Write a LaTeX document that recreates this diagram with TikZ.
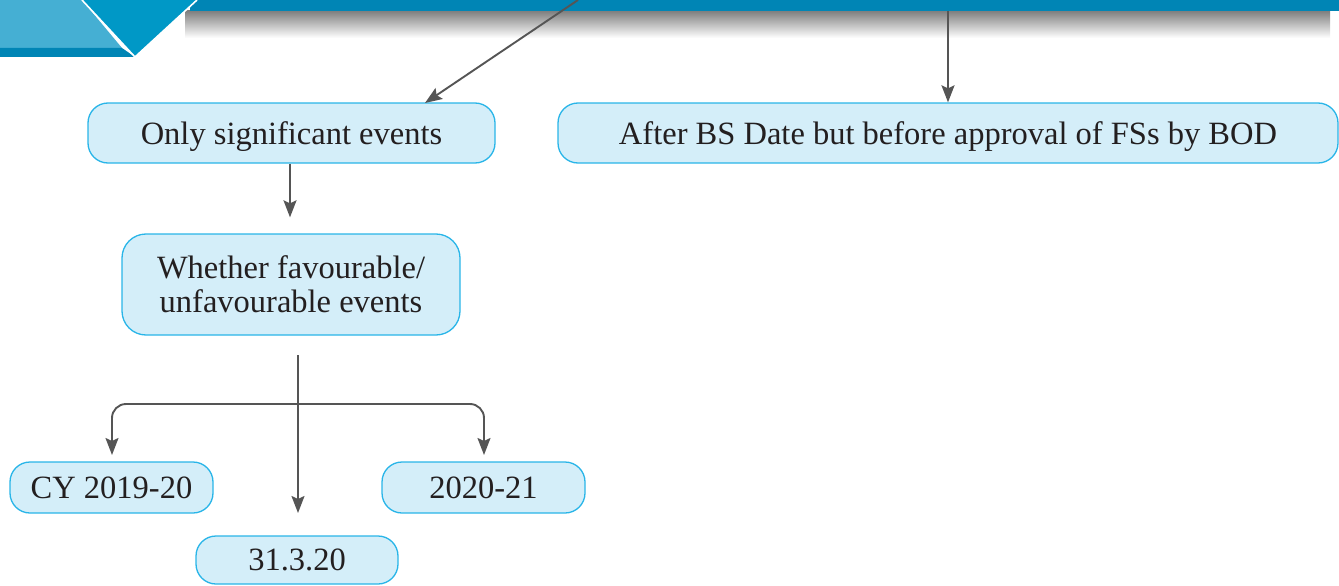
\documentclass[tikz,border=0pt]{standalone}
\usepackage{fontspec}
\setmainfont{Liberation Serif}
\usetikzlibrary{arrows.meta,calc}
\definecolor{boxfill}{HTML}{D4EEF9}
\definecolor{boxline}{HTML}{29B5E8}
\definecolor{arr}{HTML}{555555}
\definecolor{bardark}{HTML}{0085B5}
\definecolor{barmid}{HTML}{0098C6}
\definecolor{barlight}{HTML}{45AFD3}
\definecolor{txt}{HTML}{231F20}
\tikzset{
  ebox/.style={draw=boxline, fill=boxfill, line width=1.3pt, rounded corners=20pt,
    text=txt, font=\fontsize{32.5}{34}\selectfont, align=center, inner sep=0pt, text depth=0pt},
  >={Stealth[length=17pt,width=13pt,inset=3pt]},
  conn/.style={draw=arr, line width=1.9pt, ->},
}
\begin{document}
\begin{tikzpicture}[x=1pt,y=-1pt]
\useasboundingbox (0,0) rectangle (1339,586);
% header
\shade[top color=black!50, bottom color=white] (185,11) rectangle (1330,38);
\fill[bardark] (190,0) rectangle (1339,11);
\fill[barlight] (0,0) -- (82,0) -- (122,48) -- (0,48) -- cycle;
\fill[bardark] (0,48) -- (122,48) -- (135,57) -- (0,57) -- cycle;
\fill[barmid] (82,0) -- (197,0) -- (135,57) -- cycle;
\draw[white, line width=1.6pt] (82,0) -- (135,57) -- (197,0);
% boxes
\node[ebox, minimum width=407pt, minimum height=60pt] (b1) at (291.5,133) {Only significant events};
\node[ebox, minimum width=780pt, minimum height=60pt] (b2) at (948,133) {After BS Date but before approval of FSs by BOD};
\node[ebox, minimum width=338pt, minimum height=101pt, rounded corners=24pt] (b3) at (291,284.5) {Whether favourable/\\unfavourable events};
\node[ebox, minimum width=203pt, minimum height=51pt] (cy) at (111.5,487.5) {CY 2019-20};
\node[ebox, minimum width=203pt, minimum height=51pt] (ny) at (483.5,487.5) {2020-21};
\node[ebox, minimum width=202pt, minimum height=48pt] (dt) at (297,560) {31.3.20};
% connector coordinates
\coordinate (t1) at (578,0);
\coordinate (e1) at (425,103);
\coordinate (t2) at (948,11);
\coordinate (s3) at (298,355);
\coordinate (e3) at (298,513);
\coordinate (bl) at (112,455);
\coordinate (br) at (484,455);
\coordinate (hl) at (112,404);
\coordinate (hr) at (484,404);
% connectors
\draw[conn] (t1) -- (e1);
\draw[conn] (t2) -- (b2.north);
\draw[conn, shorten >=16pt] (b1.south -| 290,0) -- (b3.north -| 290,0);
\draw[conn] (s3) -- (e3);
\draw[conn, <->, rounded corners=14pt] (bl) -- (hl) -- (hr) -- (br);
\end{tikzpicture}
\end{document}
